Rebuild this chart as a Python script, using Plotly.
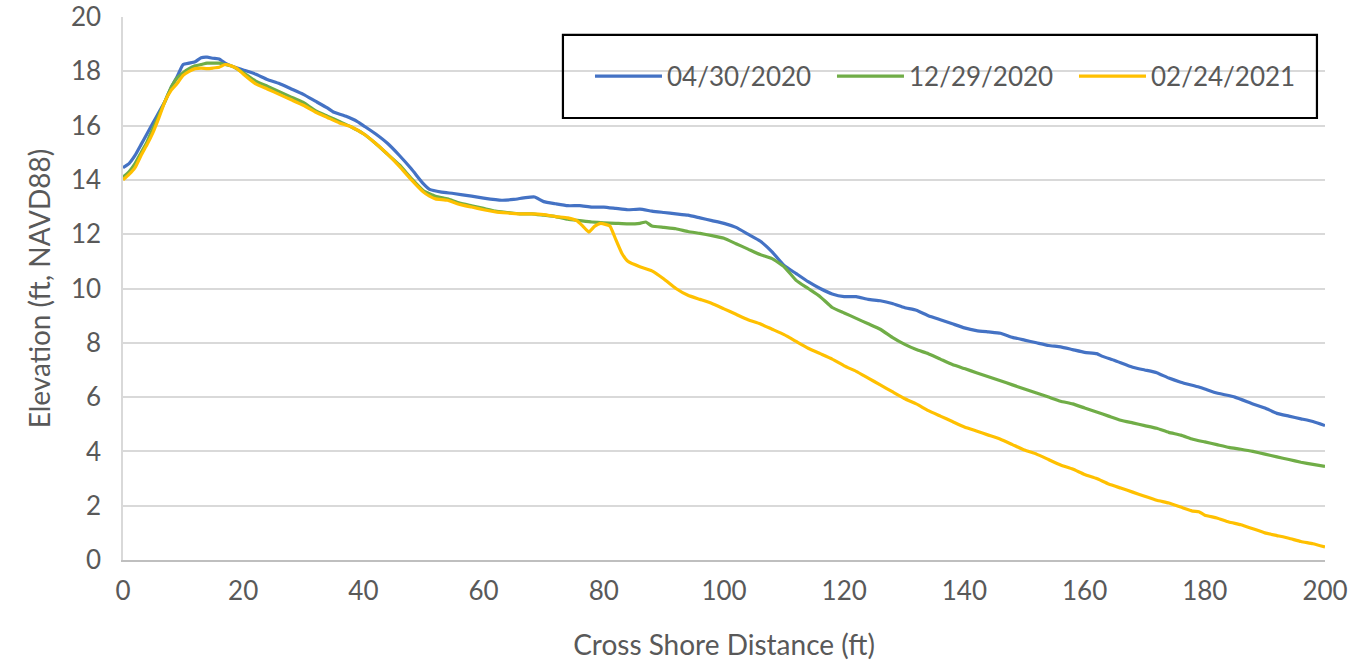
import plotly.graph_objects as go

# ---------------- data ----------------
series_names = ["04/30/2020", "12/29/2020", "02/24/2021"]
series_colors = ["#4472C4", "#70AD47", "#FFC000"]

dist_0430_2020 = [0, 1, 2, 3, 4, 5, 6, 7, 8, 9, 10, 11, 12, 13, 14, 15, 16, 17, 18, 20, 22, 24, 26, 28, 30,
                  32, 34, 35, 37, 39, 40, 42, 44, 46, 48, 50, 51, 53, 55, 58, 60, 63, 65, 67, 68.5, 70, 72,
                  74, 76, 78, 80, 82, 84, 86, 88, 90, 92, 94, 96, 98, 100, 102, 104, 106, 108, 110, 112,
                  114, 116, 118, 120, 122, 124, 126, 128, 130, 132, 134, 136, 138, 140, 142, 144, 146, 148,
                  150, 152, 154, 156, 158, 160, 162, 163, 165, 168, 170, 172, 174, 176, 179, 180, 182, 185,
                  188, 190, 192, 194, 196, 198, 200]
elev_0430_2020 = [14.45, 14.6, 14.9, 15.3, 15.7, 16.1, 16.5, 16.9, 17.4, 17.8, 18.25, 18.3, 18.35, 18.5, 18.52,
                  18.48, 18.45, 18.3, 18.2, 18.05, 17.9, 17.7, 17.55, 17.35, 17.15, 16.9, 16.65, 16.5, 16.35,
                  16.15, 16.0, 15.7, 15.35, 14.9, 14.4, 13.85, 13.65, 13.55, 13.5, 13.4, 13.33, 13.25, 13.28,
                  13.35, 13.37, 13.2, 13.12, 13.05, 13.05, 13.0, 13.0, 12.95, 12.9, 12.92, 12.85, 12.8, 12.75,
                  12.7, 12.6, 12.5, 12.4, 12.25, 12.0, 11.75, 11.35, 10.85, 10.55, 10.25, 10.0, 9.8, 9.7, 9.7,
                  9.6, 9.55, 9.45, 9.3, 9.2, 9.0, 8.85, 8.7, 8.55, 8.45, 8.4, 8.35, 8.2, 8.1, 8.0, 7.9, 7.85,
                  7.75, 7.65, 7.6, 7.5, 7.35, 7.1, 7.0, 6.9, 6.7, 6.55, 6.37, 6.3, 6.15, 6.0, 5.75, 5.6, 5.4,
                  5.3, 5.2, 5.1, 4.95]

dist_1229_2020 = [0, 1, 2, 3, 4, 5, 6, 7, 8, 9, 10, 11, 12, 13, 14, 15, 16, 17, 18, 20, 22, 24, 26, 28, 30,
                  32, 34, 36, 38, 40, 42, 44, 46, 48, 50, 52, 54, 56, 58, 60, 62, 64, 66, 68, 70, 72, 74, 76,
                  78, 80, 82, 84, 86, 87, 88, 90, 92, 94, 96, 98, 100, 102, 104, 106, 108, 110, 112, 114, 116,
                  118, 120, 122, 124, 126, 128, 130, 132, 134, 136, 138, 140, 142, 144, 146, 148, 150, 152,
                  154, 156, 158, 160, 162, 164, 166, 168, 170, 172, 174, 176, 178, 180, 182, 184, 186, 188,
                  190, 192, 194, 196, 198, 200]
elev_1229_2020 = [14.1, 14.3, 14.6, 15.0, 15.4, 15.9, 16.4, 16.9, 17.4, 17.75, 17.95, 18.1, 18.2, 18.25, 18.3,
                  18.3, 18.3, 18.25, 18.2, 17.95, 17.65, 17.45, 17.25, 17.05, 16.85, 16.55, 16.35, 16.15,
                  15.95, 15.7, 15.35, 14.95, 14.55, 14.05, 13.6, 13.4, 13.3, 13.15, 13.05, 12.95, 12.85, 12.8,
                  12.75, 12.75, 12.7, 12.65, 12.55, 12.5, 12.45, 12.42, 12.4, 12.38, 12.4, 12.45, 12.3, 12.25,
                  12.2, 12.1, 12.03, 11.95, 11.85, 11.65, 11.45, 11.25, 11.1, 10.8, 10.3, 10.0, 9.7, 9.3, 9.1,
                  8.9, 8.7, 8.5, 8.2, 7.95, 7.75, 7.6, 7.4, 7.2, 7.05, 6.9, 6.75, 6.6, 6.45, 6.3, 6.15, 6.0,
                  5.85, 5.75, 5.6, 5.45, 5.3, 5.15, 5.05, 4.95, 4.85, 4.7, 4.6, 4.45, 4.35, 4.25, 4.15, 4.08,
                  4.0, 3.9, 3.8, 3.7, 3.6, 3.52, 3.45]

dist_0224_2021 = [0, 1, 2, 3, 4, 5, 6, 7, 8, 9, 10, 11, 12, 13, 14, 15, 16, 17, 18, 19, 20, 22, 24, 26, 28,
                  30, 32, 34, 36, 38, 40, 42, 44, 46, 48, 50, 51, 52, 54, 56, 58, 60, 62, 64, 66, 68, 70, 72,
                  74, 75.5, 76.5, 77.5, 78.5, 79.5, 81, 82, 83, 84, 86, 88, 90, 92, 94, 96, 98, 100, 102, 104,
                  106, 108, 110, 112, 114, 116, 118, 120, 122, 124, 126, 128, 130, 132, 134, 136, 138, 140,
                  142, 144, 146, 148, 150, 152, 154, 156, 158, 160, 162, 164, 166, 168, 170, 172, 174, 176,
                  178, 179, 180, 182, 184, 186, 188, 190, 192, 194, 196, 198, 200]
elev_0224_2021 = [14.0, 14.2, 14.45, 14.9, 15.3, 15.75, 16.3, 16.9, 17.3, 17.55, 17.85, 18.0, 18.1, 18.12, 18.1,
                  18.12, 18.15, 18.25, 18.2, 18.1, 17.9, 17.55, 17.35, 17.15, 16.95, 16.75, 16.5, 16.3, 16.1,
                  15.95, 15.7, 15.35, 14.95, 14.5, 14.0, 13.55, 13.4, 13.3, 13.25, 13.1, 13.0, 12.9, 12.82,
                  12.78, 12.75, 12.75, 12.72, 12.65, 12.6, 12.5, 12.3, 12.08, 12.3, 12.4, 12.3, 11.8, 11.3,
                  11.0, 10.8, 10.65, 10.35, 10.0, 9.75, 9.6, 9.45, 9.25, 9.05, 8.85, 8.7, 8.5, 8.3, 8.05, 7.8,
                  7.6, 7.4, 7.15, 6.95, 6.7, 6.45, 6.2, 5.95, 5.75, 5.5, 5.3, 5.1, 4.9, 4.75, 4.6, 4.45, 4.25,
                  4.05, 3.9, 3.7, 3.5, 3.35, 3.15, 3.0, 2.8, 2.65, 2.5, 2.35, 2.2, 2.1, 1.95, 1.8, 1.78, 1.65,
                  1.55, 1.4, 1.3, 1.15, 1.0, 0.9, 0.8, 0.68, 0.6, 0.48]

x_ticks = [0, 20, 40, 60, 80, 100, 120, 140, 160, 180, 200]
y_ticks = [0, 2, 4, 6, 8, 10, 12, 14, 16, 18, 20]

x_title = "Cross Shore Distance (ft)"
y_title = "Elevation (ft, NAVD88)"

# ---------------- figure ----------------
FONT = "Lato, Carlito, Calibri, sans-serif"
GREY = "#595959"

fig = go.Figure()
all_x = [dist_0430_2020, dist_1229_2020, dist_0224_2021]
all_y = [elev_0430_2020, elev_1229_2020, elev_0224_2021]
for name, color, xs, ys in zip(series_names, series_colors, all_x, all_y):
    fig.add_trace(go.Scatter(x=xs, y=ys, mode="lines", name=name,
                             line=dict(color=color, width=3.2, shape="spline", smoothing=0.4)))

fig.update_layout(
    width=1352, height=664,
    margin=dict(l=123, r=27, t=17, b=104, autoexpand=False),
    paper_bgcolor="white", plot_bgcolor="white",
    font=dict(family=FONT, color=GREY, size=26),
    legend=dict(orientation="h", x=0.3885, y=0.891, xanchor="left", yanchor="middle",
                font=dict(size=26, color=GREY), bgcolor="rgba(0,0,0,0)",
                entrywidth=160, entrywidthmode="pixels", itemwidth=67),
    shapes=[dict(type="rect", xref="paper", yref="paper", x0=0.366, x1=0.9933, y0=0.814, y1=0.967,
                 line=dict(color="black", width=2.2), fillcolor="rgba(0,0,0,0)", layer="above")],
)
fig.update_xaxes(range=[0, 200], tickvals=x_ticks, showgrid=False, zeroline=False, automargin=False,
                 showline=True, linecolor="#BFBFBF", linewidth=1.5, ticks="",
                 ticklabelstandoff=7, tickfont=dict(size=26, color=GREY),
                 title=dict(text=x_title, font=dict(size=28, color=GREY), standoff=30))
fig.update_yaxes(range=[0, 20], tickvals=y_ticks, showgrid=True, gridcolor="#D9D9D9", gridwidth=1.5,
                 zeroline=False, showline=True, linecolor="#D9D9D9", linewidth=1.5, ticks="",
                 automargin=False, ticklabelstandoff=15, tickfont=dict(size=26, color=GREY),
                 title=dict(text=y_title, font=dict(size=28, color=GREY), standoff=12))

fig.write_html("out.html", config={"displayModeBar": False},
               post_script="document.body.style.margin='0px';")
